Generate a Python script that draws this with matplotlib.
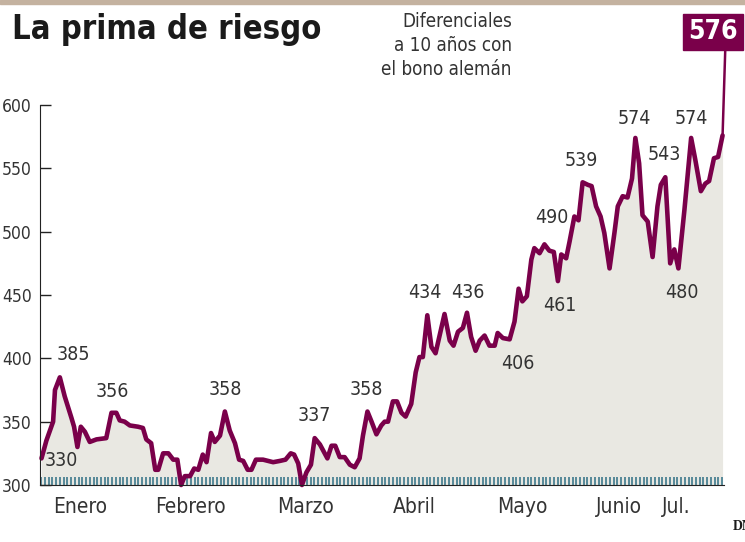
import matplotlib.pyplot as plt
import matplotlib.patches as patches
from matplotlib.ticker import MultipleLocator

plt.rcParams['font.family'] = ['DejaVu Sans']
plt.rcParams['font.stretch'] = 'condensed'

# days since 1 January, spread of Spanish 10y bond vs German bund (basis points)
days = [0.1, 1.4, 3.2, 3.7, 5.0, 6.3, 8.1, 8.8, 9.7, 10.6, 11.7, 13.0, 14.8, 17.4, 18.8,
        20.1, 21.0, 22.3, 23.7, 25.9, 27.2, 28.1, 29.4, 30.5, 31.3, 32.6, 34.0, 35.3, 36.4,
        37.4, 38.4, 39.8, 40.9, 42.0, 43.2, 44.2, 45.4, 46.4, 47.8, 49.1, 50.4, 51.8, 52.9,
        54.0, 55.2, 56.2, 57.4, 59.3, 60.7, 62.0, 63.8, 65.3, 66.7, 67.6, 68.7, 69.7, 70.9,
        72.1, 73.1, 74.5, 76.5, 77.6, 78.6, 79.8, 81.1, 82.5, 83.8, 85.1, 86.0, 87.2, 88.3,
        89.6, 90.9, 91.8, 92.7, 94.0, 95.1, 96.3, 97.4, 98.9, 100.1, 101.1, 102.0, 103.2,
        104.3, 105.4, 106.8, 107.8, 109.2, 110.2, 111.4, 112.7, 113.8, 114.9, 116.1, 117.2,
        118.5, 119.8, 121.2, 122.0, 123.4, 125.2, 126.5, 127.6, 128.6, 129.8, 131.0, 131.8,
        133.2, 134.5, 135.8, 137.0, 138.1, 139.0, 140.3, 141.2, 142.5, 143.6, 144.7, 146.1,
        147.1, 148.3, 149.5, 150.5, 151.9, 153.2, 154.1, 155.4, 156.7, 157.9, 158.8, 159.8,
        160.7, 162.1, 163.4, 164.7, 165.6, 166.8, 168.1, 169.2, 170.3, 171.9, 173.7, 174.8,
        176.3, 177.5, 178.5, 179.8, 180.9, 182.1]
spread = [321, 335, 350, 375, 385, 370, 353, 346, 330, 346, 342, 334, 336, 337, 357,
          357, 351, 350, 347, 346, 345, 336, 333, 312, 312, 325, 325, 320, 320,
          300, 307, 307, 313, 312, 324, 318, 341, 334, 339, 358, 343, 333, 320,
          319, 312, 312, 320, 320, 319, 318, 319, 320, 325, 324, 317, 300, 310,
          316, 337, 332, 321, 331, 331, 322, 322, 316, 314, 321, 339, 358, 350,
          340, 347, 350, 350, 366, 366, 357, 354, 364, 389, 401, 401, 434,
          409, 404, 422, 435, 414, 410, 421, 424, 436, 417, 406, 414,
          418, 410, 410, 420, 416, 415, 429, 455, 445, 449, 478, 487,
          483, 490, 485, 484, 461, 482, 479, 492, 512, 509, 539, 537,
          536, 520, 512, 499, 471, 499, 520, 528, 527, 542, 574, 554,
          513, 508, 480, 520, 537, 543, 475, 486, 471, 517, 574, 557,
          532, 538, 540, 558, 559, 576]

# labelled values: text, day, vertical position
note_text = ['385', '330', '356', '358', '337', '358', '434', '436', '406', '461',
             '490', '539', '574', '543', '480', '574']
note_day = [8.5, 5.4, 18.9, 49.3, 73.0, 87.0, 102.5, 114.1, 127.4, 138.5,
            136.6, 144.5, 158.5, 166.5, 171.1, 173.8]
note_pos = [403, 319, 374, 375, 355, 375, 452, 452, 396, 442,
            511, 556, 589, 561, 452, 589]

month_names = ['Enero', 'Febrero', 'Marzo', 'Abril', 'Mayo', 'Junio', 'Jul.']
month_pos = [10.4, 39.8, 70.7, 99.8, 128.6, 154.5, 169.7]

line_col = '#7a004a'
fill_col = '#e9e8e2'
text_col = '#333333'

fig = plt.figure(figsize=(7.45, 5.42), dpi=100)
ax = fig.add_axes([0.0537, 0.1052, 0.9177, 0.701])

ax.fill_between(days, spread, 300, color=fill_col, lw=0)
ax.plot(days, spread, color=line_col, lw=3.3, solid_joinstyle='round', solid_capstyle='round',
        clip_on=False)

for t, d, v in zip(note_text, note_day, note_pos):
    ax.text(d, v, t, ha='center', va='center', fontsize=14, color=text_col)

ax.set_xlim(-0.3, 182.4)
ax.set_ylim(300, 600)
ax.spines['top'].set_visible(False)
ax.spines['right'].set_visible(False)
ax.spines['left'].set_color('#222222')
ax.spines['bottom'].set_color('#222222')
ax.set_yticks([300, 350, 400, 450, 500, 550, 600])
ax.tick_params(axis='y', direction='in', length=8, width=1, color='#222222',
               labelsize=12.5, labelcolor=text_col, pad=6)
ax.set_xticks(month_pos)
ax.set_xticklabels(month_names)
ax.tick_params(axis='x', which='major', length=0, labelsize=15, labelcolor=text_col, pad=9)
ax.xaxis.set_minor_locator(MultipleLocator(1))
ax.tick_params(axis='x', which='minor', direction='in', length=5.5, width=1.1, color='#2f6f85')

# last value box
ax.annotate('576', xy=(days[-1], spread[-1]), xycoords='data',
            xytext=(713, 510), textcoords='figure pixels',
            ha='center', va='center', fontsize=19, fontweight='bold', color='white',
            bbox=dict(boxstyle='square,pad=0.2', fc=line_col, ec=line_col),
            arrowprops=dict(arrowstyle='-', color=line_col, lw=1.8, shrinkA=0, shrinkB=0,
                            relpos=(0.75, 0)),
            annotation_clip=False)

fig.text(0.016, 0.946, 'La prima de riesgo', fontsize=23.5, fontweight='bold', color='#1a1a1a',
         ha='left', va='center')
fig.text(0.687, 0.978, 'Diferenciales\na 10 años con\nel bono alemán', fontsize=13.5,
         color=text_col, ha='right', va='top', linespacing=1.35)

fig.patches.append(patches.Rectangle((0, 0.993), 1, 0.007, transform=fig.transFigure,
                                     color='#c4b2a0', zorder=0))
fig.text(0.983, 0.017, 'DN', fontsize=10, fontweight='bold', family='Liberation Serif',
         color='#1a1a1a', ha='left', va='bottom')

fig.savefig('out.png', dpi=100)
